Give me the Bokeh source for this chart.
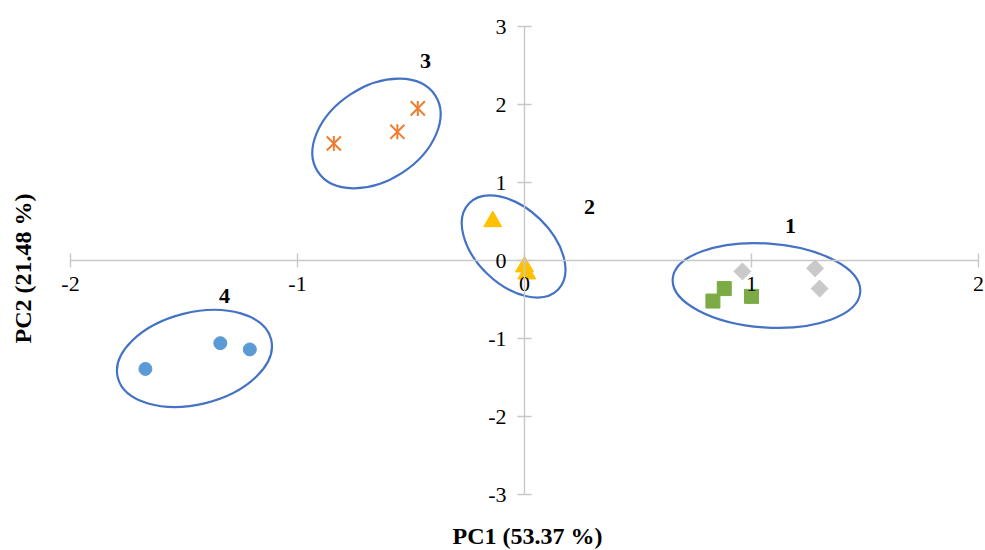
from bokeh.plotting import figure
from bokeh.models import FixedTicker, Label, PrintfTickFormatter
from bokeh.core.properties import value
from bokeh.embed import file_html
from bokeh.resources import INLINE
import math

# PCA scores, grouped by cluster
g1_sq_x = [0.88, 0.83, 1.00]
g1_sq_y = [-0.36, -0.52, -0.46]
g1_dm_x = [0.96, 1.28, 1.30]
g1_dm_y = [-0.14, -0.10, -0.36]
g2_x = [-0.14, 0.00, 0.01]
g2_y = [0.50, -0.08, -0.17]
g3_x = [-0.84, -0.56, -0.47]
g3_y = [1.50, 1.65, 1.95]
g4_x = [-1.67, -1.34, -1.21]
g4_y = [-1.39, -1.06, -1.14]

# Cluster outlines (centre in data units, axes in screen pixels, tilt in degrees)
ell_x = [1.066, -0.048, -0.652, -1.454]
ell_y = [-0.32, 0.18, 1.628, -1.256]
ell_w = [188, 124, 140, 158]
ell_h = [84, 76, 94, 92]
ell_deg = [-4, -44, 33, 14]

cluster_names = ["1", "2", "3", "4"]
cluster_x = [1.172, 0.286, -0.436, -1.322]
cluster_y = [0.436, 0.68, 2.56, -0.46]

x_ticks = [-2, -1, 0, 1, 2]
y_ticks = [-3, -2, -1, 0, 1, 2, 3]

SERIF = "Liberation Serif"
W, H = 985, 550
PX_X = 227.0   # pixels per PC1 unit
PX_Y = 78.0    # pixels per PC2 unit

# the plotting frame fills the whole canvas; the axes cross at the origin
p = figure(width=W, height=H,
           x_range=(-2 - 70 / PX_X, 2 + 7 / PX_X),
           y_range=(-3 - 56 / PX_Y, 3 + 26 / PX_Y),
           output_backend="svg", toolbar_location=None,
           min_border_left=0, min_border_right=0,
           min_border_top=0, min_border_bottom=0)
p.outline_line_color = None
p.xgrid.visible = False
p.ygrid.visible = False
p.background_fill_color = "white"

for ax, ticks in ((p.xaxis[0], x_ticks), (p.yaxis[0], y_ticks)):
    ax.fixed_location = 0
    ax.bounds = (min(ticks), max(ticks))
    ax.ticker = FixedTicker(ticks=ticks)
    ax.formatter = PrintfTickFormatter(format="%d")
    ax.minor_tick_line_color = None
    ax.axis_line_color = "#C8C8C8"
    ax.axis_line_width = 1.4
    ax.major_tick_line_color = "#C8C8C8"
    ax.major_tick_line_width = 1.4
    ax.major_tick_in = 7
    ax.major_tick_out = 7
    ax.major_label_text_font = SERIF
    ax.major_label_text_font_size = "22px"
    ax.major_label_text_color = "#000000"
p.xaxis[0].major_label_standoff = 9
p.yaxis[0].major_label_standoff = 11

# cluster ellipses
p.ellipse(x=ell_x, y=ell_y, width=ell_w, height=ell_h,
          angle=[math.radians(d) for d in ell_deg],
          width_units="screen", height_units="screen",
          fill_color=None, line_color="#4472C4", line_width=2.2)

# markers (the diamonds are squares turned by 45 degrees)
p.scatter(g1_dm_x, g1_dm_y, marker="square", size=12, angle=math.pi / 4,
          fill_color="#C9C9C9", line_color="#C9C9C9")
p.scatter(g1_sq_x, g1_sq_y, marker="square", size=14,
          fill_color="#7CAB45", line_color="#7CAB45")
p.scatter(g2_x, g2_y, marker="triangle", size=18,
          fill_color="#FFC000", line_color="#FFC000")
p.scatter(g3_x, g3_y, marker="x", size=20,
          line_color="#ED7D31", line_width=2)
p.scatter(g3_x, g3_y, marker="dash", size=15, angle=math.pi / 2,
          line_color="#ED7D31", line_width=2)
p.scatter(g4_x, g4_y, marker="circle", size=13,
          fill_color="#5B9BD5", line_color="#5B9BD5")

# cluster numbers
p.text(x=cluster_x, y=cluster_y, text=cluster_names,
       text_font=value(SERIF), text_font_style="bold",
       text_font_size="22px", text_align="center", text_baseline="middle",
       text_color="#000000")

# axis titles
p.add_layout(Label(x=527, y=H - 535, x_units="screen", y_units="screen",
                   text="PC1 (53.37 %)", text_font=SERIF,
                   text_font_style="bold", text_font_size="24px",
                   text_align="center", text_baseline="middle",
                   text_color="#000000"))
p.add_layout(Label(x=22, y=H - 268, x_units="screen", y_units="screen",
                   text="PC2 (21.48 %)", text_font=SERIF,
                   text_font_style="bold", text_font_size="24px",
                   text_align="center", text_baseline="middle",
                   angle=math.pi / 2, text_color="#000000"))

open("out.html", "w").write(file_html(p, INLINE))
